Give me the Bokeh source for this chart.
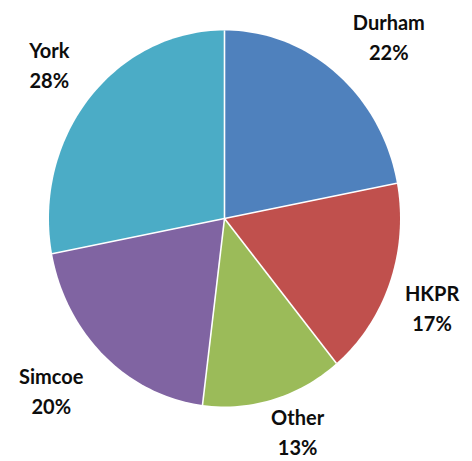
import math
from bokeh.plotting import figure
from bokeh.models import ColumnDataSource, Range1d
from bokeh.embed import file_html
from bokeh.resources import INLINE
from bokeh.core.properties import value

regions = ["Durham", "HKPR", "Other", "Simcoe", "York"]
shares = [22, 17, 13, 20, 28]
colors = ["#4F81BD", "#C0504D", "#9BBB59", "#8064A2", "#4BACC6"]

# layout (pixels)
W, H = 472, 461
CX, CY = 224, 218          # pie centre on the page
RX, RY = 175.5, 188.0      # pixels per unit radius (pie is slightly oval)
ANCHOR_X, ANCHOR_Y = 190.0, 213.7
PUSH_Y = 16.8
LINE_GAP = 15.0
CHAR_W = 12.0
EDGE_PAD = 15.0

total = sum(shares)
xs, ys = [], []
sep_x0, sep_y0, sep_x1, sep_y1 = [], [], [], []
lx, ly_name, ly_pct, pct = [], [], [], []
cum = 0.0
for name, s in zip(regions, shares):
    t0 = 2 * math.pi * cum / total
    cum += s
    t1 = 2 * math.pi * cum / total
    n = max(8, int(240 * s / total))
    px = [0.0] + [math.sin(t0 + (t1 - t0) * i / n) for i in range(n + 1)]
    py = [0.0] + [math.cos(t0 + (t1 - t0) * i / n) for i in range(n + 1)]
    xs.append(px)
    ys.append(py)
    sep_x0.append(0.0); sep_y0.append(0.0)
    sep_x1.append(math.sin(t0)); sep_y1.append(math.cos(t0))
    mid = (t0 + t1) / 2
    ux, uy = math.sin(mid), math.cos(mid)
    w = CHAR_W * max(len(name), len(f"{s}%"))
    dx = ux * ANCHOR_X + math.copysign(0.6 * w * min(1.0, 2 * abs(ux)), ux)
    dy = uy * ANCHOR_Y + math.copysign(PUSH_Y, uy)
    # keep the two-line label inside the page
    dy = min(dy, CY - LINE_GAP - EDGE_PAD)
    dy = max(dy, -(H - CY) + LINE_GAP + EDGE_PAD)
    lx.append(dx / RX)
    ly_name.append((dy + LINE_GAP) / RY)
    ly_pct.append((dy - LINE_GAP) / RY)
    pct.append(f"{s}%")

p = figure(width=W, height=H, output_backend="svg", toolbar_location=None,
           x_range=Range1d(-CX / RX, (W - CX) / RX),
           y_range=Range1d(-(H - CY) / RY, CY / RY), min_border=0)
p.axis.visible = False
p.grid.visible = False
p.outline_line_color = None

p.patches(xs=xs, ys=ys, fill_color=colors, line_color=None)
p.segment(x0=sep_x0, y0=sep_y0, x1=sep_x1, y1=sep_y1, line_color="white",
          line_width=1.6)

src = ColumnDataSource(dict(name=regions, pct=pct, lx=lx, ly1=ly_name, ly2=ly_pct))
for col, txt in (("ly1", "name"), ("ly2", "pct")):
    p.text(x="lx", y=col, text=txt, source=src, text_font=value("Lato"),
           text_font_style="bold", text_font_size="20px", text_color="#0d0d0d",
           text_align="center", text_baseline="middle")

open("out.html", "w").write(file_html(p, INLINE))
